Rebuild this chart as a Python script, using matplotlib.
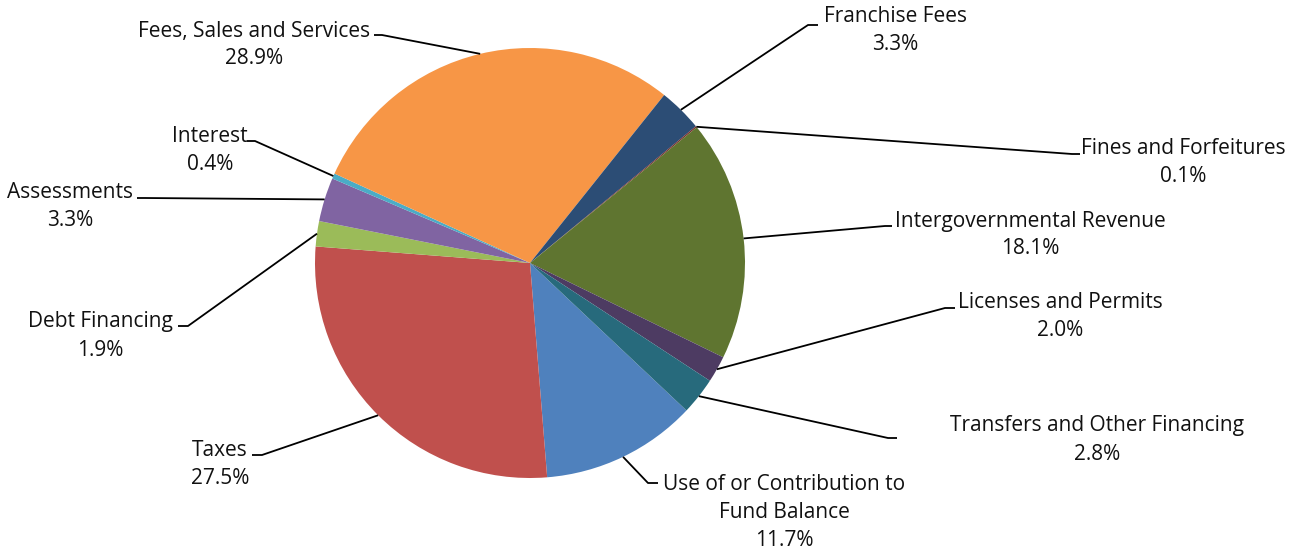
import matplotlib
matplotlib.use("Agg")
import matplotlib.pyplot as plt
import numpy as np

plt.rcParams['font.family'] = ['Open Sans', 'DejaVu Sans']

categories = ["Use of or Contribution to\nFund Balance", "Taxes", "Debt Financing", "Assessments",
              "Interest", "Fees, Sales and Services", "Franchise Fees", "Fines and Forfeitures",
              "Intergovernmental Revenue", "Licenses and Permits", "Transfers and Other Financing"]
values = [11.7, 27.5, 1.9, 3.3, 0.4, 28.9, 3.3, 0.1, 18.1, 2.0, 2.8]
colors = ["#4F81BD", "#C0504D", "#9BBB59", "#8064A2", "#4BACC6", "#F79646",
          "#2C4D75", "#772C2A", "#5F7530", "#4D3B62", "#276A7C"]

W, H = 1289, 549
fig = plt.figure(figsize=(W / 100, H / 100), dpi=100)
ax = fig.add_axes([0, 0, 1, 1])


def P(x, y):
    return (x, H - y)


cx, cy, R = 530, 263, 215
wedges, _ = ax.pie(values, colors=colors, startangle=-43.3, counterclock=False,
                   radius=R, center=P(cx, cy), wedgeprops=dict(linewidth=0))
ax.set_xlim(0, W)
ax.set_ylim(0, H)
ax.set_aspect('auto')
ax.axis('off')

# layout in pixel coords (y down): text centre x, first-line centre y, elbow, end of leader
layout = [
    ((784, 484), (648, 483), (658, 483)),
    ((220, 451), (262, 455), (252, 455)),
    ((100, 322), (188, 326), (178, 326)),
    ((70, 193), (145, 198), (137, 198)),
    ((210, 136), (255, 141), (247, 141)),
    ((254, 31), (382, 35), (374, 35)),
    ((895, 16), (808, 25), (818, 25)),
    ((1183, 149), (1072, 154), (1080, 154)),
    ((1030, 221), (885, 226), (892, 226)),
    ((1060, 302), (945, 308), (955, 308)),
    ((1097, 426), (888, 438), (897, 438)),
]

fs = 15
tc = '#111111'
lh = 28
for w, name, v, (txt, elb, end) in zip(wedges, categories, values, layout):
    mid = np.deg2rad((w.theta1 + w.theta2) / 2)
    sx = w.center[0] + w.r * np.cos(mid)
    sy = w.center[1] + w.r * np.sin(mid)
    ex, ey = P(*elb)
    fx, fy = P(*end)
    ax.plot([sx, ex, fx], [sy, ey, fy], color='black', lw=1.3, solid_capstyle='butt', zorder=3)
    lines = name.split("\n") + [f"{v:.1f}%"]
    for i, ln in enumerate(lines):
        ax.text(*P(txt[0], txt[1] + i * lh), ln, ha='center', va='center', fontsize=fs, color=tc)

fig.savefig("out.png", dpi=100)
